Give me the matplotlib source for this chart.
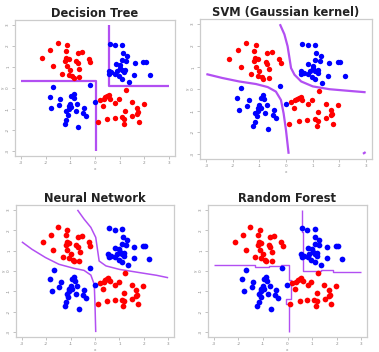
import matplotlib
matplotlib.use("Agg")
import matplotlib.pyplot as plt

# ---- data (same XOR-like dataset in all four panels) ----
red_x = [-1.51, -1.13, -1.81, -1.19, -0.53, -0.70, -2.13, -1.16, -1.07, -1.20, -0.26, -0.76,
         -0.70, -0.19, -1.71, -1.13, -0.63, -1.00, -1.32, -1.07, -0.92, -0.65, -0.86,
         1.24, 0.19, 0.35, 0.49, 0.55, 0.62, 0.32, 0.97, 0.82, 1.50, 1.97, 1.20, 1.70,
         1.74, 1.70, 0.49, 0.80, 1.09, 1.19, 1.51, 1.78, 1.16, 0.12, 0.42]
red_y = [2.14, 2.03, 1.79, 1.76, 1.73, 1.67, 1.41, 1.43, 1.38, 1.30, 1.40, 1.27,
         1.17, 1.22, 1.03, 1.03, 0.92, 0.84, 0.68, 0.62, 0.56, 0.51, 0.48,
         -0.08, -0.59, -0.52, -0.40, -0.35, -0.51, -0.87, -0.52, -0.71, -0.68, -0.75, -1.08, -0.95,
         -1.16, -1.22, -1.46, -1.43, -1.40, -1.46, -1.35, -1.62, -1.70, -1.63, -0.45]
blue_x = [0.59, 0.81, 1.11, 1.13, 1.30, 1.11, 1.27, 1.61, 0.84, 1.00, 1.96, 2.05, 0.55,
          0.89, 1.11, 1.20, 0.66, 0.82, 0.97, 1.19, 1.59, 2.23, 1.11, 1.36, 1.03, 0.58,
          -1.70, -1.84, -1.40, -0.86, -0.96, -0.84, -1.46, -1.00, -0.73, -1.07, -0.46, -1.78,
          -1.07, -0.96, -1.16, -0.78, -0.50, -1.09, -0.38, -1.17, -1.23, -0.67, -0.22, -0.01]
blue_y = [2.10, 2.03, 2.05, 1.67, 1.51, 1.35, 1.30, 1.19, 1.14, 1.08, 1.24, 1.24, 0.83,
          0.83, 0.84, 0.87, 0.75, 0.68, 0.56, 0.75, 0.62, 0.60, 0.44, 0.30, 0.95, 0.68,
          0.03, -0.41, -0.52, -0.29, -0.40, -0.48, -0.79, -0.76, -0.75, -0.87, -0.95, -0.97,
          -1.00, -0.90, -1.11, -1.11, -1.19, -1.27, -1.32, -1.51, -1.70, -1.87, 0.16, -0.68]

# ---- decision boundaries ----
dt_left_x = [-3.0, 0.05, 0.05]
dt_left_y = [0.32, 0.32, -3.0]
dt_right_x = [0.57, 0.57, 3.0]
dt_right_y = [3.0, 0.10, 0.10]

svm_a_x = [-0.23, -0.06, 0.06, 0.13, 0.19, 0.32, 0.57, 1.01, 1.64, 2.40, 3.0]
svm_a_y = [3.0, 2.53, 1.98, 1.44, 0.97, 0.66, 0.35, 0.12, -0.01, -0.09, -0.15]
svm_b_x = [-3.0, -2.40, -1.77, -1.13, -0.69, -0.38, -0.19, -0.09, 0.0, 0.10]
svm_b_y = [0.69, 0.51, 0.35, 0.23, 0.09, -0.12, -0.51, -1.13, -1.91, -3.0]
svm_c_x = [2.9, 3.0]
svm_c_y = [-3.0, -2.92]

nn_a_x = [-0.72, -0.45, -0.17, 0.03, 0.10, 0.17, 0.45, 1.0, 1.83, 2.52, 3.0]
nn_a_y = [3.0, 2.55, 2.14, 1.65, 1.07, 0.49, 0.25, 0.08, -0.08, -0.21, -0.33]
nn_b_x = [-3.0, -2.59, -2.03, -1.48, -0.86, -0.45, -0.17, -0.03, 0.0, 0.03]
nn_b_y = [1.43, 1.07, 0.66, 0.33, 0.13, 0.03, -0.20, -0.66, -1.65, -3.0]

rf_a_x = [-3.0, -1.34, -1.34, -0.77, -0.77, -0.26, -0.26, 0.08, 0.08, 0.14, 0.14, -0.05, -0.05, 0.08, 0.08]
rf_a_y = [0.30, 0.30, 0.21, 0.21, 0.26, 0.26, 0.31, 0.31, -0.45, -0.45, -1.35, -1.35, -1.60, -1.60, -3.0]
rf_b_x = [0.58, 0.58, 0.62, 0.62, 1.37, 1.37, 1.85, 1.85, 3.0]
rf_b_y = [3.0, 1.93, 1.93, -0.02, -0.02, 0.06, 0.06, -0.07, -0.07]

ticks = [-3, -2, -1, 0, 1, 2, 3]
tick_labels = ["-3", "-2", "-1", "0", "1", "2", "3"]
titles = ["Decision Tree", "SVM (Gaussian kernel)", "Neural Network", "Random Forest"]

W, H = 379, 352
fig = plt.figure(figsize=(W / 100, H / 100), dpi=100)
fig.patch.set_facecolor("white")

# axes boxes in pixels: left, right, top, bottom
boxes = [(15, 175, 20, 156), (200, 372, 19, 159), (16, 174, 205, 337), (208, 367, 205, 337)]
purple = "#b24ff2"
lws = [1.6, 1.6, 1.1, 1.0]
sizes = [15, 15, 17, 17]

bounds = [
    [(dt_left_x, dt_left_y), (dt_right_x, dt_right_y)],
    [(svm_a_x, svm_a_y), (svm_b_x, svm_b_y), (svm_c_x, svm_c_y)],
    [(nn_a_x, nn_a_y), (nn_b_x, nn_b_y)],
    [(rf_a_x, rf_a_y), (rf_b_x, rf_b_y)],
]

for i, (l, r, t, b) in enumerate(boxes):
    ax = fig.add_axes([l / W, 1 - b / H, (r - l) / W, (b - t) / H])
    ax.scatter(red_x, red_y, s=sizes[i], c="#ff0000", linewidths=0, zorder=3)
    ax.scatter(blue_x, blue_y, s=sizes[i], c="#0000ff", linewidths=0, zorder=3)
    for bx, by in bounds[i]:
        ax.plot(bx, by, color=purple, lw=lws[i], zorder=2, solid_capstyle="butt")
    ax.set_xlim(-3.24, 3.24)
    ax.set_ylim(-3.24, 3.24)
    ax.set_xticks(ticks)
    ax.set_xticklabels(tick_labels)
    ax.set_yticks(ticks)
    ax.set_yticklabels(tick_labels, rotation=90, va="center")
    ax.tick_params(length=2, width=0.5, color="#aaaaaa", labelsize=3, labelcolor="#888888", pad=1.5)
    for sp in ax.spines.values():
        sp.set_color("#cccccc")
        sp.set_linewidth(0.9)
    ax.set_xlabel("x", fontsize=3, color="#888888", labelpad=1.5)
    ax.set_ylabel("y", fontsize=3, color="#888888", labelpad=1)
    ax.set_title(titles[i], fontsize=8.3, fontweight="bold", color="#222222", pad=2.5)

fig.savefig("out.png", dpi=100, facecolor="white")
